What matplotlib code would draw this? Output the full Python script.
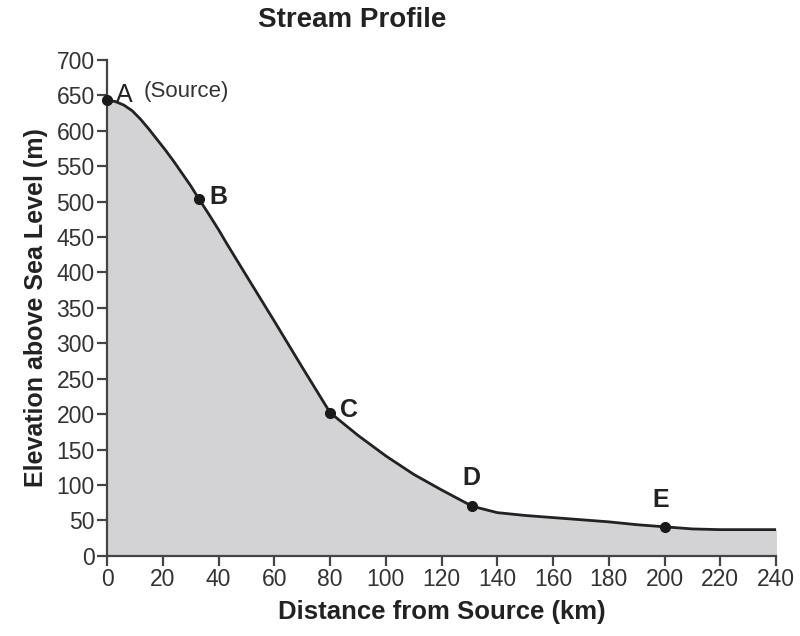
import matplotlib
matplotlib.use("Agg")
import matplotlib.pyplot as plt

plt.rcParams['font.family'] = ['Liberation Sans', 'DejaVu Sans']

# Profile (km, m)
distance = [0, 3, 6, 9, 12, 15, 18, 21, 24, 27, 30, 33, 36, 40, 43, 50, 60, 70, 80,
            90, 100, 110, 120, 131, 140, 150, 160, 170, 180, 190, 200, 210, 220, 230, 240]
elevation = [643, 641, 636, 628, 616, 602, 587, 572, 556, 539, 522, 503, 485, 460, 440, 395, 331, 266, 202,
             170, 141, 115, 93, 70, 61, 57, 54, 51, 48, 44, 41, 38, 37, 37, 37]

# Labelled points
point_names = ["A", "B", "C", "D", "E"]
point_x = [0, 33, 80, 131, 200]
point_y = [643, 503, 202, 70, 41]

x_ticks = list(range(0, 241, 20))
y_ticks = list(range(0, 701, 50))

fig = plt.figure(figsize=(8, 6.36), dpi=100)
ax = fig.add_axes([0.134, 0.126, 0.836, 0.780])

ax.fill_between(distance, elevation, 0, color='#d3d3d5', zorder=1)
ax.plot(distance, elevation, color='#222222', lw=2, zorder=2,
        solid_capstyle='round', solid_joinstyle='round')
ax.plot(point_x, point_y, 'o', color='#1a1a1a', ms=7, zorder=3, clip_on=False)

offsets = {"A": (6, 4), "B": (7, 2), "C": (7, 2), "D": (-7, 12), "E": (-9, 11)}
for n, x, y in zip(point_names, point_x, point_y):
    dx, dy = offsets[n]
    ax.annotate(n, (x, y), xytext=(dx, dy), textcoords='offset points',
                fontsize=18, fontweight='bold' if n != 'A' else 'normal',
                color='#222222', va='bottom' if n in 'DE' else 'center', ha='left')
ax.annotate("(Source)", (0, 643), xytext=(26, 6), textcoords='offset points',
            fontsize=16, color='#333333', va='center', ha='left')

ax.set_xlim(0, 240)
ax.set_ylim(0, 700)
ax.set_xticks(x_ticks)
ax.set_yticks(y_ticks)
for s in ['top', 'right']:
    ax.spines[s].set_visible(False)
for s in ['left', 'bottom']:
    ax.spines[s].set_color('#444444')
    ax.spines[s].set_linewidth(1.6)
ax.tick_params(axis='both', length=7, width=1.6, color='#444444',
               labelsize=16.5, labelcolor='#333333', pad=2)

ax.set_xlabel("Distance from Source (km)", fontsize=18.5, fontweight='bold',
              color='#222222', labelpad=6)
ax.set_ylabel("Elevation above Sea Level (m)", fontsize=18, fontweight='bold',
              color='#222222', labelpad=6)

fig.text(0.44, 0.968, "Stream Profile", fontsize=20, fontweight='bold',
         color='#222222', ha='center', va='center')

fig.savefig("out.png", dpi=100)
